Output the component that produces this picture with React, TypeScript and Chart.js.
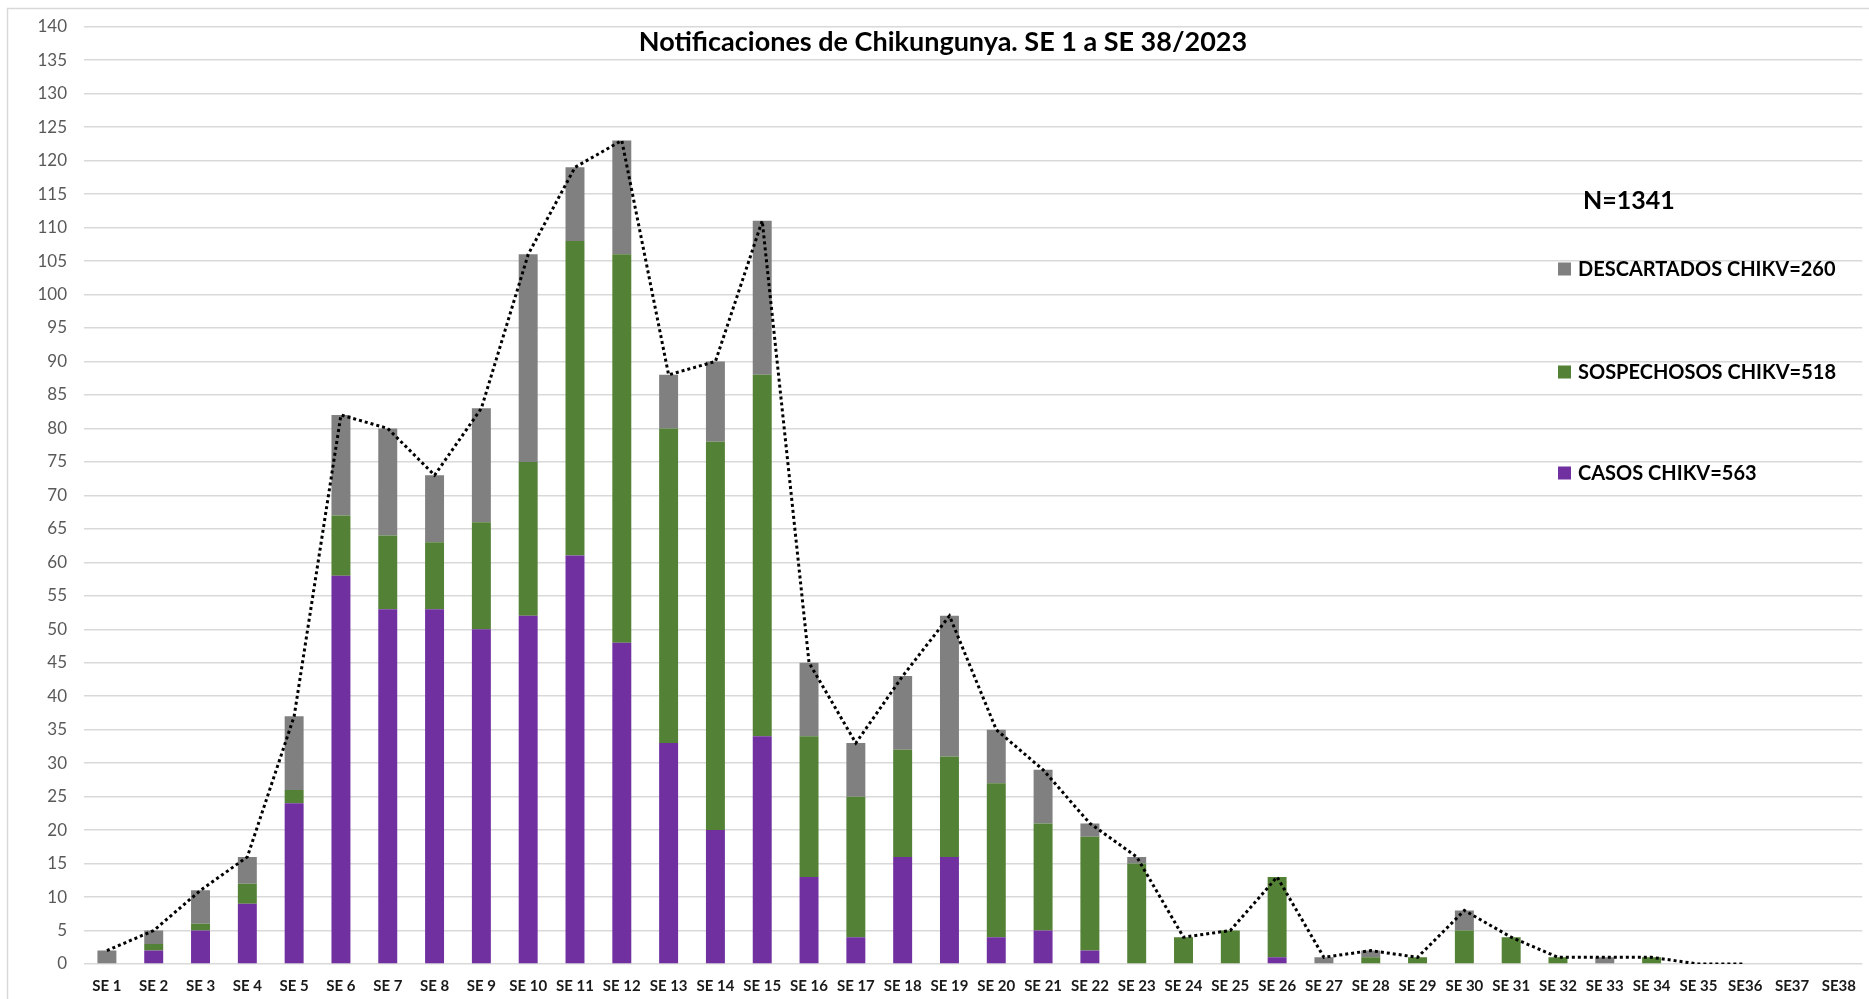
import React, { useEffect, useRef } from 'react';
import { Chart, registerables } from 'chart.js';

Chart.register(...registerables);

const weeks = [
  'SE 1', 'SE 2', 'SE 3', 'SE 4', 'SE 5', 'SE 6', 'SE 7', 'SE 8', 'SE 9', 'SE 10',
  'SE 11', 'SE 12', 'SE 13', 'SE 14', 'SE 15', 'SE 16', 'SE 17', 'SE 18', 'SE 19', 'SE 20',
  'SE 21', 'SE 22', 'SE 23', 'SE 24', 'SE 25', 'SE 26', 'SE 27', 'SE 28', 'SE 29', 'SE 30',
  'SE 31', 'SE 32', 'SE 33', 'SE 34', 'SE 35', 'SE36', 'SE37', 'SE38',
];

const casos = [
  0, 2, 5, 9, 24, 58, 53, 53, 50, 52,
  61, 48, 33, 20, 34, 13, 4, 16, 16, 4,
  5, 2, 0, 0, 0, 1, 0, 0, 0, 0,
  0, 0, 0, 0, 0, 0, 0, 0,
];

const sospechosos = [
  0, 1, 1, 3, 2, 9, 11, 10, 16, 23,
  47, 58, 47, 58, 54, 21, 21, 16, 15, 23,
  16, 17, 15, 4, 5, 12, 0, 1, 1, 5,
  4, 1, 0, 1, 0, 0, 0, 0,
];

const descartados = [
  2, 2, 5, 4, 11, 15, 16, 10, 17, 31,
  11, 17, 8, 12, 23, 11, 8, 11, 21, 8,
  8, 2, 1, 0, 0, 0, 1, 1, 0, 3,
  0, 0, 1, 0, 0, 0, 0, 0,
];

const totales: (number | null)[] = [
  2, 5, 11, 16, 37, 82, 80, 73, 83, 106,
  119, 123, 88, 90, 111, 45, 33, 43, 52, 35,
  29, 21, 16, 4, 5, 13, 1, 2, 1, 8,
  4, 1, 1, 1, 0, 0, null, null,
];

const seriesNames = ['CASOS CHIKV', 'SOSPECHOSOS CHIKV', 'DESCARTADOS CHIKV'];
const seriesColors = ['#7030A0', '#538135', '#808080'];
const titleText = 'Notificaciones de Chikungunya. SE 1 a SE 38/2023';

const sum = (a: number[]) => a.reduce((s, v) => s + v, 0);
const FONT = 'Lato, "Noto Sans", sans-serif';

const overlayPlugin = {
  id: 'overlay',
  beforeDraw(chart: any) {
    const ctx = chart.ctx;
    ctx.save();
    ctx.fillStyle = '#ffffff';
    ctx.fillRect(0, 0, chart.width, chart.height);
    ctx.strokeStyle = '#d9d9d9';
    ctx.lineWidth = 1.5;
    ctx.strokeRect(7.5, 8.5, chart.width + 4, chart.height + 10);
    ctx.restore();
  },
  afterDraw(chart: any) {
    const ctx = chart.ctx;
    ctx.save();
    // title
    ctx.fillStyle = '#000000';
    ctx.font = `bold 27px ${FONT}`;
    ctx.textAlign = 'center';
    ctx.textBaseline = 'middle';
    ctx.fillText(titleText, 943, 42);

    // N total
    const bars = chart.data.datasets.filter((d: any) => d.type === 'bar');
    const total = bars.reduce((s: number, d: any) => s + sum(d.data), 0);
    ctx.textAlign = 'left';
    ctx.font = `bold 25px ${FONT}`;
    ctx.fillText(`N=${total}`, 1583, 201);

    // legend (reverse order)
    const ys = [473, 372, 269];
    ctx.font = `bold 20px ${FONT}`;
    bars.forEach((d: any, i: number) => {
      const y = ys[i];
      ctx.fillStyle = d.backgroundColor;
      ctx.fillRect(1558, y - 6.5, 13, 13);
      ctx.fillStyle = '#000000';
      ctx.fillText(d.label, 1578, y + 1);
    });
    ctx.restore();
  },
};

export default function App() {
  const canvasRef = useRef<HTMLCanvasElement | null>(null);

  useEffect(() => {
    if (!canvasRef.current) return;
    const seriesData = [casos, sospechosos, descartados];
    const barDatasets = seriesData.map((data, i) => ({
      type: 'bar' as const,
      label: `${seriesNames[i]}=${sum(data)}`,
      data,
      backgroundColor: seriesColors[i],
      borderWidth: 0,
      stack: 'bars',
      order: 1,
      barPercentage: 0.405,
      categoryPercentage: 1,
    }));

    const chart = new Chart(canvasRef.current, {
      type: 'bar',
      data: {
        labels: weeks,
        datasets: [
          ...barDatasets,
          {
            type: 'line' as const,
            label: 'Total',
            data: totales,
            borderColor: '#000000',
            borderWidth: 3,
            borderDash: [3, 3],
            pointRadius: 0,
            tension: 0,
            fill: false,
            stack: 'line',
            order: 0,
            spanGaps: false,
          },
        ],
      } as any,
      options: {
        animation: false,
        responsive: false,
        maintainAspectRatio: false,
        layout: { padding: { left: 0, top: 22.5, right: 3, bottom: 0 } },
        plugins: {
          legend: { display: false },
          title: { display: false },
          tooltip: { enabled: false },
        },
        scales: {
          x: {
            stacked: true,
            grid: { display: false, drawTicks: false },
            border: { display: false },
            ticks: {
              color: '#1a1a1a',
              font: { family: FONT, size: 15, weight: 'bold' },
              padding: 13,
              maxRotation: 0,
              autoSkip: false,
            },
            afterFit: (scale: any) => {
              scale.height = 35;
            },
          },
          y: {
            stacked: true,
            min: 0,
            max: 140,
            grid: { color: '#d9d9d9', lineWidth: 1.5, drawTicks: false },
            border: { display: false },
            ticks: {
              stepSize: 5,
              color: '#595959',
              font: { family: FONT, size: 17 },
              padding: 16.5,
            },
            afterFit: (scale: any) => {
              scale.width = 83.5;
            },
          },
        },
      } as any,
      plugins: [overlayPlugin],
    });

    return () => chart.destroy();
  }, []);

  return (
    <div style={{ position: 'fixed', left: 0, top: 0, width: 1869, height: 999 }}>
      <canvas ref={canvasRef} width={1869} height={999} style={{ display: 'block', width: 1869, height: 999 }} />
    </div>
  );
}
